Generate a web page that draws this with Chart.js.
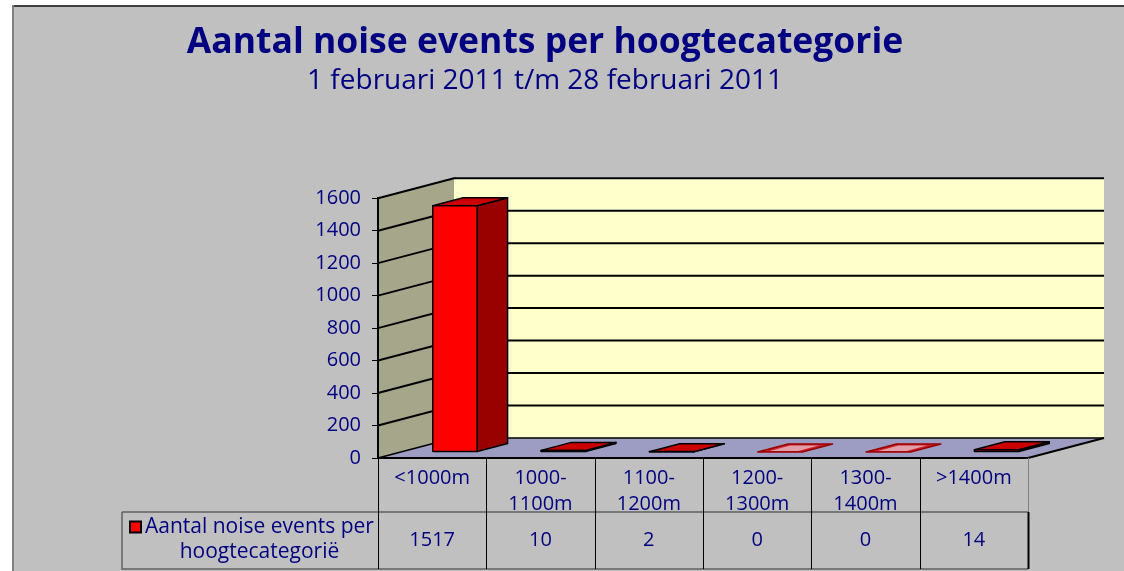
<!DOCTYPE html>
<html>
<head>
<meta charset="utf-8">
<title>Aantal noise events per hoogtecategorie</title>
<script src="https://cdn.jsdelivr.net/npm/chart.js@4.4.1/dist/chart.umd.min.js"></script>
<style>
  html, body { margin: 0; padding: 0; background: #fff; }
  canvas { display: block; }
</style>
</head>
<body>
<canvas id="chart" width="1124" height="571"></canvas>
<script>
// chart data
const categories = ["<1000m", ["1000-", "1100m"], ["1100-", "1200m"], ["1200-", "1300m"], ["1300-", "1400m"], ">1400m"];
const counts = [1517, 10, 2, 0, 0, 14];
const yTicks = [0, 200, 400, 600, 800, 1000, 1200, 1400, 1600];
const seriesName = "Aantal noise events per hoogtecategorië";
const titleText = "Aantal noise events per hoogtecategorie";
const subtitleText = "1 februari 2011 t/m 28 februari 2011";

const navy = "#000080";
const DX = 76, DY = -20;       // depth of the 3d box
const BAR_RED = "#ff0000", BAR_SIDE = "#990000", BAR_TOP = "#cc0000";

Chart.defaults.font.family = "'Open Sans'";

function poly(ctx, pts, fill, stroke) {
    ctx.beginPath();
    pts.forEach((p, i) => i ? ctx.lineTo(p[0], p[1]) : ctx.moveTo(p[0], p[1]));
    ctx.closePath();
    if (fill) { ctx.fillStyle = fill; ctx.fill(); }
    if (stroke) { ctx.strokeStyle = stroke; ctx.stroke(); }
}

// walls, floor, 3d bars and data table
const box3d = {
    id: "box3d",
    beforeDraw(chart) {
        const ctx = chart.ctx;
        const { left, right, top, bottom } = chart.chartArea;
        const y = chart.scales.y;
        ctx.save();
        // page frame
        ctx.fillStyle = "#fff";
        ctx.fillRect(0, 0, chart.width, chart.height);
        ctx.fillStyle = "#c0c0c0";
        ctx.fillRect(12, 5, chart.width - 12, chart.height - 5);
        ctx.fillStyle = "#404040";
        ctx.fillRect(12, 5, chart.width - 12, 2);
        ctx.fillStyle = "#808080";
        ctx.fillRect(12, 5, 2, chart.height - 5);

        poly(ctx, [[left, top], [left + DX, top + DY], [left + DX, bottom + DY], [left, bottom]], "#a6a68a");
        ctx.fillStyle = "#ffffcc";
        ctx.fillRect(left + DX, top + DY, right - left, bottom - top);
        poly(ctx, [[left, bottom], [left + DX, bottom + DY], [right + DX, bottom + DY], [right, bottom]], "#9d9dc4");

        ctx.strokeStyle = "#000";
        yTicks.forEach(v => {
            const py = y.getPixelForValue(v);
            ctx.lineWidth = v === 0 ? 1.5 : 2;
            ctx.beginPath();
            ctx.moveTo(left, py);
            ctx.lineTo(left + DX, py + DY);
            ctx.lineTo(right + DX, py + DY);
            ctx.stroke();
        });
        ctx.lineWidth = 2;
        ctx.beginPath();
        ctx.moveTo(right, bottom);
        ctx.lineTo(right + DX, bottom + DY);
        ctx.stroke();
        ctx.restore();
    },
    afterDatasetsDraw(chart) {
        const ctx = chart.ctx;
        const meta = chart.getDatasetMeta(0);
        const fx = DX * 0.3, fy = DY * 0.3, bx = DX * 0.4, by = DY * 0.4;
        ctx.save();
        ctx.lineWidth = 1.5;
        ctx.lineJoin = "round";
        meta.data.forEach((bar, i) => {
            const { x, y, base, width } = bar.getProps(["x", "y", "base", "width"], true);
            const l = x - width / 2 + fx, r = x + width / 2 + fx;
            const t = y + fy, b = base + fy;
            if (counts[i] === 0) {
                poly(ctx, [[l, t], [l + bx, t + by], [r + bx, t + by], [r, t]], "#cc2030", "#990000");
                poly(ctx, [[l + 12, t - 1], [l + bx + 2, t + by + 1.5], [r + bx - 14, t + by + 1.5], [r - 4, t - 1]], "#e0a0a8");
                return;
            }
            poly(ctx, [[r, t], [r + bx, t + by], [r + bx, b + by], [r, b]], BAR_SIDE, "#000");
            poly(ctx, [[l, t], [l + bx, t + by], [r + bx, t + by], [r, t]], BAR_TOP, "#000");
            poly(ctx, [[l, t], [r, t], [r, b], [l, b]], BAR_RED, "#000");
        });
        ctx.restore();
    },
    afterDraw(chart) {
        const ctx = chart.ctx;
        const xs = chart.scales.x;
        const { left, right, bottom } = chart.chartArea;
        const n = categories.length;
        const colW = (right - left) / n;
        const rowTop = bottom + 54, rowBottom = chart.height - 2, cellLeft = 122;
        ctx.save();
        // table lines
        ctx.strokeStyle = "#606060";
        ctx.lineWidth = 1.5;
        ctx.beginPath();
        ctx.moveTo(cellLeft, rowTop); ctx.lineTo(right, rowTop);
        ctx.moveTo(cellLeft, rowTop); ctx.lineTo(cellLeft, rowBottom); ctx.lineTo(right, rowBottom);
        ctx.stroke();
        ctx.strokeStyle = "#000";
        for (let i = 0; i <= n; i++) {
            const px = Math.round(left + i * colW) + 0.5;
            ctx.lineWidth = i === n ? 2 : 1;
            ctx.beginPath();
            ctx.moveTo(px, i === n ? rowTop : bottom);
            ctx.lineTo(px, rowBottom);
            ctx.stroke();
        }
        ctx.strokeStyle = "#808080";
        ctx.lineWidth = 1;
        ctx.beginPath();
        ctx.moveTo(right + 0.5, bottom); ctx.lineTo(right + 0.5, rowTop);
        ctx.stroke();

        // values row
        ctx.fillStyle = navy;
        ctx.font = "20px 'Open Sans'";
        ctx.textAlign = "center";
        ctx.textBaseline = "middle";
        const midY = (rowTop + rowBottom) / 2;
        counts.forEach((v, i) => ctx.fillText(String(v), xs.getPixelForValue(i), midY));

        // legend cell
        ctx.font = "21px 'Open Sans'";
        const words = seriesName.split(" ");
        const lines = [];
        let line = "";
        words.forEach(w => {
            const test = line ? line + " " + w : w;
            if (ctx.measureText(test).width > 235 && line) { lines.push(line); line = w; }
            else line = test;
        });
        lines.push(line);
        const keyX = cellLeft + 7, textX = cellLeft + 23;
        const firstW = ctx.measureText(lines[0]).width;
        const centre = textX + firstW / 2;
        lines.forEach((s, k) => {
            const ly = midY - 13 + k * 25;
            if (k === 0) {
                ctx.textAlign = "left";
                ctx.fillText(s, textX, ly);
                ctx.fillStyle = "#000";
                ctx.fillRect(keyX, ly - 7, 13, 13);
                ctx.fillStyle = BAR_RED;
                ctx.fillRect(keyX + 2, ly - 5, 9, 9);
                ctx.fillStyle = navy;
            } else {
                ctx.textAlign = "center";
                ctx.fillText(s, centre, ly);
            }
        });
        ctx.restore();
    }
};

new Chart(document.getElementById("chart"), {
    type: "bar",
    data: {
        labels: categories,
        datasets: [{
            label: seriesName,
            data: counts,
            backgroundColor: "rgba(0,0,0,0)",
            borderWidth: 0,
            categoryPercentage: 1,
            barPercentage: 0.41
        }]
    },
    options: {
        responsive: false,
        animation: false,
        layout: { padding: { left: 62, right: 96, top: 0, bottom: 0 } },
        plugins: {
            legend: { display: false },
            tooltip: { enabled: false },
            title: {
                display: true,
                text: titleText,
                color: navy,
                font: { size: 35.5, weight: "bold" },
                padding: { top: 22, bottom: 0 }
            },
            subtitle: {
                display: true,
                text: subtitleText,
                color: navy,
                font: { size: 28 },
                padding: { top: 0, bottom: 100 }
            }
        },
        scales: {
            x: {
                grid: { display: false, drawTicks: false },
                border: { display: true, color: "#000", width: 2 },
                ticks: { color: navy, font: { size: 20, lineHeight: 1.3 }, padding: 7, maxRotation: 0, autoSkip: false },
                afterFit(scale) { scale.height = 113; }
            },
            y: {
                min: 0,
                max: 1600,
                grid: { drawOnChartArea: false, drawTicks: true, tickLength: 6, color: "#000" },
                border: { display: true, color: "#000", width: 2 },
                ticks: { stepSize: 200, color: navy, font: { size: 20 }, padding: 11, callback: v => String(v) },
                afterFit(scale) { scale.width = 316; }
            }
        }
    },
    plugins: [box3d]
});
</script>
</body>
</html>
